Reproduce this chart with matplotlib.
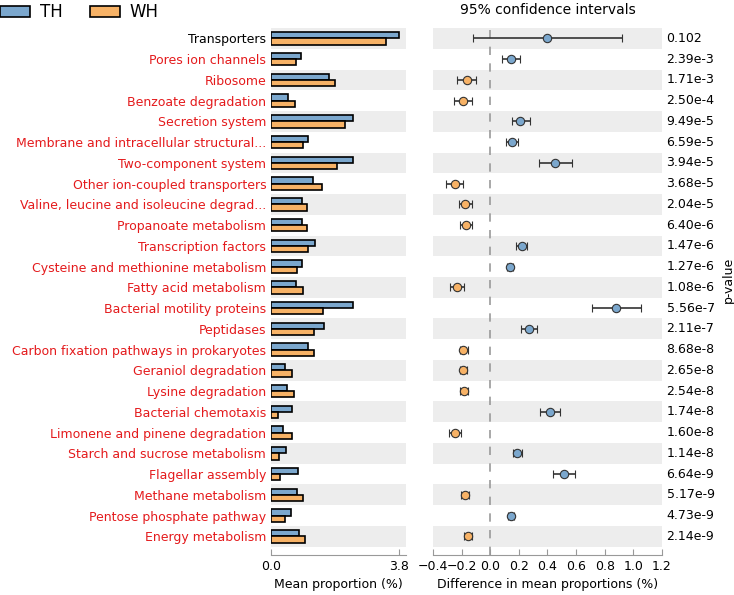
import matplotlib
matplotlib.use("Agg")
import matplotlib.pyplot as plt
from matplotlib.patches import Patch

features = [
    "Transporters", "Pores ion channels", "Ribosome", "Benzoate degradation",
    "Secretion system", "Membrane and intracellular structural...",
    "Two-component system", "Other ion-coupled transporters",
    "Valine, leucine and isoleucine degrad...", "Propanoate metabolism",
    "Transcription factors", "Cysteine and methionine metabolism",
    "Fatty acid metabolism", "Bacterial motility proteins", "Peptidases",
    "Carbon fixation pathways in prokaryotes", "Geraniol degradation",
    "Lysine degradation", "Bacterial chemotaxis",
    "Limonene and pinene degradation", "Starch and sucrose metabolism",
    "Flagellar assembly", "Methane metabolism", "Pentose phosphate pathway",
    "Energy metabolism",
]

th_mean = [3.80, 0.90, 1.73, 0.51, 2.42, 1.11, 2.43, 1.25, 0.91, 0.92, 1.31, 0.91, 0.73,
           2.44, 1.57, 1.09, 0.41, 0.48, 0.63, 0.37, 0.43, 0.80, 0.77, 0.58, 0.84]
wh_mean = [3.40, 0.75, 1.90, 0.70, 2.20, 0.96, 1.96, 1.50, 1.08, 1.08, 1.11, 0.77, 0.96,
           1.54, 1.28, 1.27, 0.61, 0.67, 0.22, 0.61, 0.25, 0.28, 0.95, 0.42, 1.00]

diff = [0.398, 0.143, -0.163, -0.189, 0.210, 0.152, 0.453, -0.249, -0.175, -0.168,
        0.219, 0.140, -0.231, 0.882, 0.270, -0.187, -0.187, -0.184, 0.419, -0.245,
        0.187, 0.516, -0.175, 0.143, -0.154]
ci_low = [-0.122, 0.080, -0.231, -0.252, 0.150, 0.108, 0.342, -0.310, -0.219, -0.208,
          0.177, 0.119, -0.279, 0.711, 0.217, -0.214, -0.214, -0.212, 0.349, -0.286,
          0.157, 0.437, -0.203, 0.122, -0.182]
ci_high = [0.919, 0.210, -0.096, -0.124, 0.275, 0.194, 0.572, -0.187, -0.126, -0.129,
           0.256, 0.161, -0.182, 1.052, 0.326, -0.157, -0.159, -0.157, 0.484, -0.203,
           0.219, 0.595, -0.147, 0.164, -0.124]

p_values = ["0.102", "2.39e-3", "1.71e-3", "2.50e-4", "9.49e-5", "6.59e-5", "3.94e-5",
            "3.68e-5", "2.04e-5", "6.40e-6", "1.47e-6", "1.27e-6", "1.08e-6", "5.56e-7",
            "2.11e-7", "8.68e-8", "2.65e-8", "2.54e-8", "1.74e-8", "1.60e-8", "1.14e-8",
            "6.64e-9", "5.17e-9", "4.73e-9", "2.14e-9"]

blue = "#7BA7CD"
orange = "#F7B266"
band = "#EDEDED"
n = len(features)
rows = list(range(n))

fig = plt.figure(figsize=(7.34, 5.95), dpi=100)
ax1 = fig.add_axes([0.3692, 0.0672, 0.1839, 0.8857])
ax2 = fig.add_axes([0.5899, 0.0672, 0.3120, 0.8857])

for ax in (ax1, ax2):
    for i in rows:
        if i % 2 == 0:
            ax.axhspan(i - 0.5, i + 0.5, color=band, lw=0, zorder=0)
    ax.set_ylim(n - 0.1, -0.5)
    for s in ("left", "right", "top"):
        ax.spines[s].set_visible(False)
    ax.spines["bottom"].set_color("#999999")
    ax.tick_params(axis="x", direction="in", color="#999999", labelsize=9, length=4)
    ax.tick_params(axis="y", length=0)

# left panel: mean proportions
ax1.barh([r - 0.15 for r in rows], th_mean, height=0.3, color=blue,
         edgecolor="black", lw=1.2, zorder=2)
ax1.barh([r + 0.15 for r in rows], wh_mean, height=0.3, color=orange,
         edgecolor="black", lw=1.2, zorder=2)
ax1.set_xlim(0, 4.0)
ax1.set_xticks([0, 3.8])
ax1.set_xticklabels(["0.0", "3.8"])
ax1.set_yticks(rows)
ax1.set_yticklabels(features, fontsize=9)
for lab, p in zip(ax1.get_yticklabels(), p_values):
    lab.set_color("black" if float(p) >= 0.05 else "#E41A1C")
ax1.set_xlabel("Mean proportion (%)", fontsize=9)

# right panel: differences with confidence intervals
ax2.axvline(0, color="#999999", ls=(0, (5, 5)), lw=1.2, zorder=1)
for i in rows:
    c = blue if diff[i] > 0 else orange
    ax2.errorbar(diff[i], i, xerr=[[diff[i] - ci_low[i]], [ci_high[i] - diff[i]]],
                 fmt="o", color="#333333", ecolor="#333333", elinewidth=1.2,
                 capsize=3, capthick=1.2, mfc=c, mec="#333333", ms=6, mew=0.8, zorder=3)
ax2.set_xlim(-0.4, 1.2)
ax2.set_xticks([-0.4, -0.2, 0.0, 0.2, 0.4, 0.6, 0.8, 1.0, 1.2])
ax2.set_xticklabels(["\u22120.4", "\u22120.2", "0.0", "0.2", "0.4", "0.6", "0.8", "1.0", "1.2"])
ax2.set_yticks([])
ax2.set_xlabel("Difference in mean proportions (%)", fontsize=9)
ax2.set_title("95% confidence intervals", fontsize=10, pad=10)

for i, p in enumerate(p_values):
    ax2.text(1.02, i, p, transform=ax2.get_yaxis_transform(), va="center",
             ha="left", fontsize=9)
fig.text(0.992, 0.53, "p-value", rotation=90, ha="center", va="center", fontsize=9)

handles = [Patch(facecolor=blue, edgecolor="black", lw=1.2, label="TH"),
           Patch(facecolor=orange, edgecolor="black", lw=1.2, label="WH")]
fig.legend(handles=handles, loc="upper left", bbox_to_anchor=(-0.02, 1.02), ncol=2,
           frameon=False, fontsize=12, handlelength=1.8, handleheight=0.6,
           handletextpad=0.6, columnspacing=1.6)

fig.savefig("out.png", dpi=100)
